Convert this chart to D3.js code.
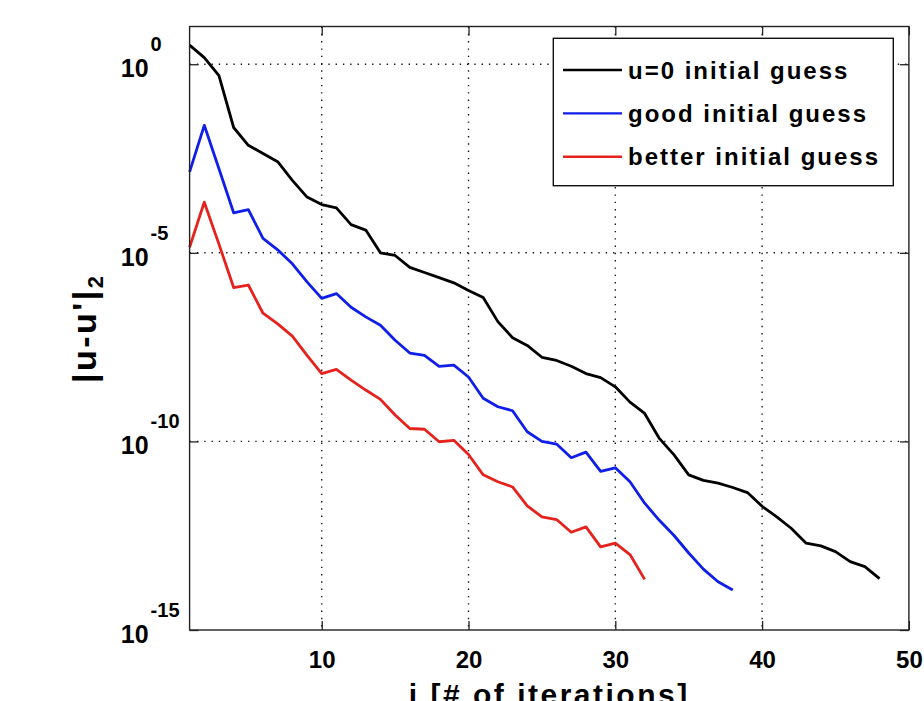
<!DOCTYPE html>
<html>
<head>
<meta charset="utf-8">
<script src="https://cdn.jsdelivr.net/npm/d3@7"></script>
<style>
  html, body { margin: 0; padding: 0; background: #ffffff; }
  svg { display: block; }
  text { font-family: "Liberation Sans", Arial, Helvetica, sans-serif; font-weight: bold; fill: #000; }
</style>
</head>
<body>
<div id="chart"></div>
<script>
// Residual norm |u-u'|_2 per iteration for three starting guesses
const iterZero   = d3.range(1, 49);   // 1..48
const iterGood   = d3.range(1, 39);   // 1..38
const iterBetter = d3.range(1, 33);   // 1..32

const residualZero = [
  3.2e0, 1.5e0, 5.0e-1, 2.1e-2, 7.1e-3, 4.3e-3, 2.6e-3, 8.3e-4, 3.0e-4, 1.9e-4,
  1.55e-4, 5.6e-5, 4.0e-5, 1.0e-5, 8.5e-6, 4.1e-6, 3.0e-6, 2.2e-6, 1.6e-6, 1.0e-6,
  6.5e-7, 1.5e-7, 5.6e-8, 3.5e-8, 1.7e-8, 1.4e-8, 9.8e-9, 6.3e-9, 4.9e-9, 2.8e-9,
  1.1e-9, 5.5e-10, 1.2e-10, 4.4e-11, 1.3e-11, 9.3e-12, 7.8e-12, 6.0e-12, 4.4e-12, 1.9e-12,
  1.0e-12, 4.9e-13, 2.0e-13, 1.7e-13, 1.2e-13, 6.5e-14, 4.8e-14, 2.3e-14
];
const residualGood = [
  1.4e-3, 2.4e-2, 1.7e-3, 1.15e-4, 1.4e-4, 2.4e-5, 1.2e-5, 5.1e-6, 1.7e-6, 6.2e-7,
  8.3e-7, 3.6e-7, 2.0e-7, 1.2e-7, 4.8e-8, 2.2e-8, 1.9e-8, 9.8e-9, 1.05e-8, 5.1e-9,
  1.4e-9, 8.3e-10, 6.5e-10, 1.8e-10, 1.0e-10, 8.5e-11, 3.7e-11, 5.2e-11, 1.6e-11, 2.0e-11,
  8.5e-12, 2.3e-12, 8.1e-13, 3.2e-13, 1.1e-13, 4.1e-14, 1.9e-14, 1.15e-14
];
const residualBetter = [
  1.4e-5, 2.2e-4, 1.7e-5, 1.2e-6, 1.4e-6, 2.5e-7, 1.3e-7, 6.2e-8, 1.9e-8, 6.3e-9,
  8.1e-9, 4.2e-9, 2.3e-9, 1.3e-9, 5.0e-10, 2.2e-10, 2.1e-10, 9.8e-11, 1.07e-10, 4.5e-11,
  1.3e-11, 8.5e-12, 6.2e-12, 1.95e-12, 1.0e-12, 8.5e-13, 3.9e-13, 5.4e-13, 1.6e-13, 2.0e-13,
  1.0e-13, 2.2e-14
];

const seriesNames  = ["u=0 initial guess", "good initial guess", "better initial guess"];
const seriesColors = ["#000000", "#0f1ee8", "#e5221d"];

const xTicks = [10, 20, 30, 40, 50];
const yTicks = [1e0, 1e-5, 1e-10, 1e-15];
const yTickExponents = ["0", "-5", "-10", "-15"];

const xDomain = [1, 50];
const yDomain = [1e-15, 1e1];

const xLabel = "i  [# of iterations]";
const yLabelMain = "|u-u'|";
const yLabelSub = "2";

// ---- layout ----
const W = 924, H = 701;
const plotL = 189.6, plotR = 908.9, plotT = 26.5, plotB = 630;

const svg = d3.select("#chart").append("svg")
  .attr("width", W).attr("height", H)
  .attr("viewBox", `0 0 ${W} ${H}`);

svg.append("rect").attr("width", W).attr("height", H).attr("fill", "#fff");

const x = d3.scaleLinear().domain(xDomain).range([plotL, plotR]);
const y = d3.scaleLog().domain(yDomain).range([plotB, plotT]);

// dotted grid
const grid = svg.append("g")
  .attr("stroke", "#1a1a1a").attr("stroke-width", 1.4)
  .attr("stroke-dasharray", "1.4 5.9");
grid.selectAll("line.gx")
  .data(xTicks.filter(t => t > xDomain[0] && t < xDomain[1]))
  .join("line")
  .attr("x1", d => x(d)).attr("x2", d => x(d))
  .attr("y1", plotT).attr("y2", plotB);
grid.selectAll("line.gy")
  .data(yTicks.filter(t => t > yDomain[0] && t < yDomain[1]))
  .join("line")
  .attr("x1", plotL).attr("x2", plotR)
  .attr("y1", d => y(d)).attr("y2", d => y(d));

// series lines
const line = d3.line()
  .x(d => x(d[0]))
  .y(d => y(d[1]));

const series = [
  { iters: iterZero,   vals: residualZero },
  { iters: iterGood,   vals: residualGood },
  { iters: iterBetter, vals: residualBetter }
];

series.forEach((s, k) => {
  svg.append("path")
    .datum(s.iters.map((it, j) => [it, s.vals[j]]))
    .attr("fill", "none")
    .attr("stroke", seriesColors[k])
    .attr("stroke-width", 2.8)
    .attr("stroke-linejoin", "round")
    .attr("stroke-linecap", "butt")
    .attr("d", line);
});

// axes: inward ticks on all four sides
const tickLen = 9;
const axisColor = "#222";

const xAxisBottom = d3.axisBottom(x).tickValues(xTicks).tickSizeInner(-tickLen)
  .tickSizeOuter(0).tickPadding(21).tickFormat(d3.format("d"));
const gxb = svg.append("g").attr("transform", `translate(0,${plotB})`).call(xAxisBottom);
gxb.attr("font-family", null).attr("font-size", null);
gxb.select(".domain").remove();
gxb.selectAll(".tick line").attr("stroke", axisColor).attr("stroke-width", 1.3);
gxb.selectAll(".tick text").attr("font-size", 24).attr("fill", "#000");

const xAxisTop = d3.axisTop(x).tickValues(xTicks).tickSizeInner(-tickLen)
  .tickSizeOuter(0).tickFormat("");
const gxt = svg.append("g").attr("transform", `translate(0,${plotT})`).call(xAxisTop);
gxt.select(".domain").remove();
gxt.selectAll(".tick line").attr("stroke", axisColor).attr("stroke-width", 1.3);

const yAxisLeft = d3.axisLeft(y).tickValues(yTicks).tickSizeInner(-tickLen)
  .tickSizeOuter(0).tickFormat("");
const gyl = svg.append("g").attr("transform", `translate(${plotL},0)`).call(yAxisLeft);
gyl.select(".domain").remove();
gyl.selectAll(".tick line").attr("stroke", axisColor).attr("stroke-width", 1.3);

const yAxisRight = d3.axisRight(y).tickValues(yTicks).tickSizeInner(-tickLen)
  .tickSizeOuter(0).tickFormat("");
const gyr = svg.append("g").attr("transform", `translate(${plotR},0)`).call(yAxisRight);
gyr.select(".domain").remove();
gyr.selectAll(".tick line").attr("stroke", axisColor).attr("stroke-width", 1.3);

// y tick labels as powers of ten
const yLab = svg.append("g");
yTicks.forEach((t, k) => {
  const ty = y(t);
  yLab.append("text")
    .attr("x", plotL - 41).attr("y", ty + 13)
    .attr("text-anchor", "end")
    .attr("font-size", 25)
    .text("10");
  yLab.append("text")
    .attr("x", plotL - 39).attr("y", ty - 13)
    .attr("text-anchor", "start")
    .attr("font-size", 20)
    .text(yTickExponents[k]);
});

// frame
svg.append("rect")
  .attr("x", plotL).attr("y", plotT)
  .attr("width", plotR - plotL).attr("height", plotB - plotT)
  .attr("fill", "none").attr("stroke", axisColor).attr("stroke-width", 1.4);

// axis titles (the x title sits partly below the page edge)
svg.append("text")
  .attr("x", (plotL + plotR) / 2).attr("y", 705)
  .attr("text-anchor", "middle")
  .attr("font-size", 30)
  .attr("letter-spacing", 2.5)
  .text(xLabel);

const yt = svg.append("text")
  .attr("transform", `translate(96,${(plotT + plotB) / 2}) rotate(-90)`)
  .attr("text-anchor", "middle")
  .attr("font-size", 34)
  .attr("letter-spacing", 2.5);
yt.append("tspan").text(yLabelMain);
yt.append("tspan").attr("font-size", 22).attr("dy", 7).text(yLabelSub);

// legend
const lg = svg.append("g");
lg.append("rect")
  .attr("x", 553.3).attr("y", 38.3)
  .attr("width", 340).attr("height", 147.4)
  .attr("fill", "#fff").attr("stroke", "#111").attr("stroke-width", 1.4);
seriesNames.forEach((name, k) => {
  const ly = 70 + k * 43.4;
  lg.append("line")
    .attr("x1", 563).attr("x2", 622)
    .attr("y1", ly).attr("y2", ly)
    .attr("stroke", seriesColors[k]).attr("stroke-width", 2.4);
  lg.append("text")
    .attr("x", 628).attr("y", ly + 8.5)
    .attr("font-size", 24)
    .attr("letter-spacing", 2)
    .text(name);
});
</script>
</body>
</html>
